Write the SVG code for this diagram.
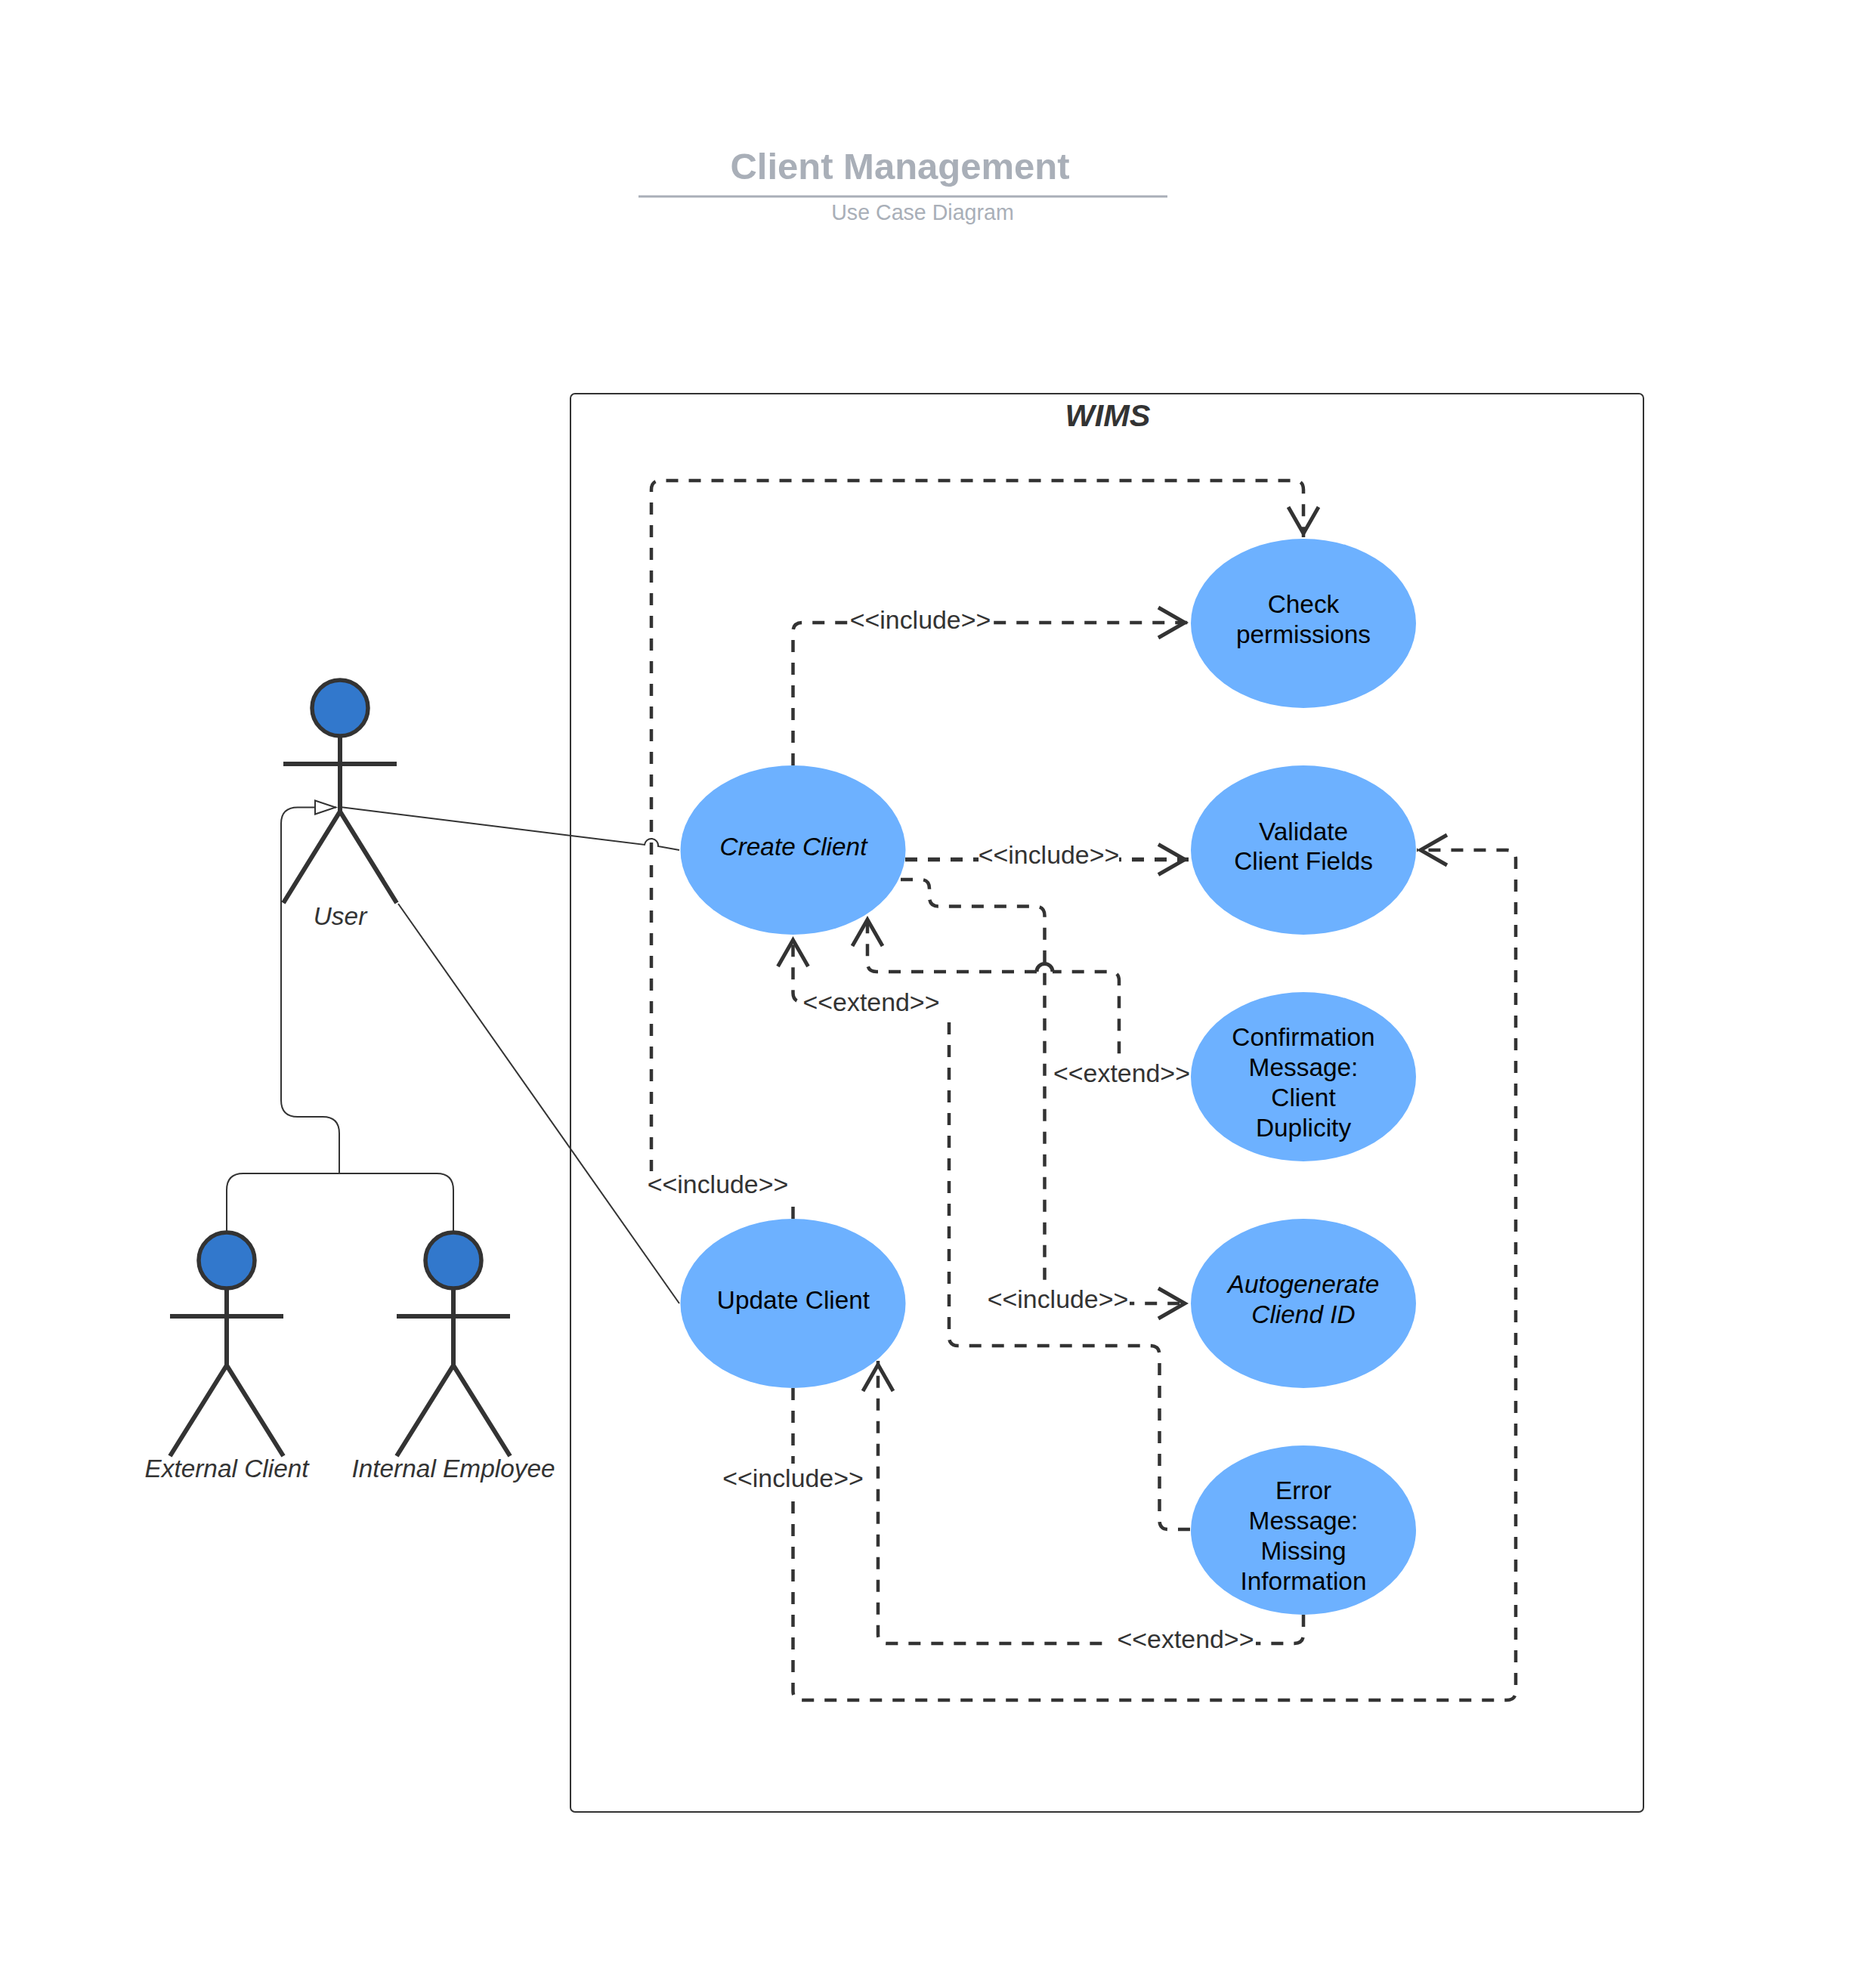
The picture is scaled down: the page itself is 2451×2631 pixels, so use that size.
<svg xmlns="http://www.w3.org/2000/svg" width="2451" height="2631" viewBox="0 0 2451 2631">
<style>
text{font-family:"Liberation Sans",Arial,sans-serif;text-anchor:middle}
.uc{fill:#6db1ff}
.ut{font-size:33.4px;fill:#000}
.i{font-style:italic}
.lb{font-size:33.9px;fill:#333}
.bg{fill:#fff}
.at{font-size:33.4px;font-style:italic;fill:#333}
.head{fill:#3278cc;stroke:#333;stroke-width:5.500}
.limb{fill:none;stroke:#333;stroke-width:6}
.thin{fill:none;stroke:#333;stroke-width:2}
.dash{fill:none;stroke:#333;stroke-width:4.500;stroke-dasharray:16 14}
.open{marker-end:url(#open)}
</style>
<defs>
<marker id="open" markerUnits="userSpaceOnUse" markerWidth="50" markerHeight="50" viewBox="0 0 50 50" refX="44" refY="25" orient="auto">
<path d="M4 5L39 25L4 45" fill="none" stroke="#333" stroke-width="5"/>
</marker>
<marker id="tri" markerUnits="userSpaceOnUse" markerWidth="34" markerHeight="24" viewBox="0 0 34 24" refX="30" refY="12" orient="auto">
<path d="M2 3L29 12L2 21Z" fill="#fff" stroke="#333" stroke-width="2"/>
</marker>
</defs>
<rect width="2451" height="2631" fill="#fff"/>
<g id="title">
<text x="1191" y="237" font-size="49" font-weight="bold" fill="#a9afb8">Client Management</text>
<rect x="845" y="258.500" width="700" height="3" fill="#a9afb8"/>
<text x="1221" y="291" font-size="28.600" fill="#a9afb8">Use Case Diagram</text>
</g>
<g id="system">
<rect x="755" y="521" width="1420" height="1877" rx="6" fill="#fff" stroke="#333" stroke-width="2"/>
<text x="1466" y="564" font-size="41.500" font-weight="bold" font-style="italic" fill="#333">WIMS</text>
</g>
<g id="connectors">
<path class="thin" d="M450 1068L853 1118A9 9 0 0 1 871 1120L899 1125"/>
<path class="thin" d="M527 1196L899 1725"/>
<path class="thin" style="marker-end:url(#tri)" d="M449 1553V1500Q449 1478 427 1478H394Q372 1478 372 1456V1090Q372 1068.500 394 1068.500H445"/>
<path class="thin" d="M300 1629V1575Q300 1553 322 1553H578Q600 1553 600 1575V1629"/>
<path class="dash open" d="M1049.500 1613V1580Q1049.500 1568 1037 1568H874Q862 1568 862 1556V648Q862 636 874 636H1713Q1725 636 1725 648V711"/>
<path class="dash open" d="M1049.500 1013V836Q1049.500 824 1062 824H1573"/>
<path class="dash open" style="stroke-width:5.500" d="M1198 1137.500H1573"/>
<path class="dash open" d="M1192 1164H1218Q1230 1164 1230 1176V1187Q1230 1199.500 1242 1199.500H1370Q1382.500 1199.500 1382.500 1212V1725H1573"/>
<path class="dash open" d="M1575 1425H1493Q1481 1425 1481 1413V1298Q1481 1286 1469 1286H1393M1372 1286H1160Q1148 1286 1148 1274V1212"/>
<path fill="none" stroke="#333" stroke-width="5" d="M1393 1286A10.500 10.500 0 0 0 1372 1286"/>
<path class="dash open" d="M1575 2024H1546Q1534.500 2024 1534.500 2012V1793Q1534.500 1781 1522 1781H1268Q1256 1781 1256 1769V1338Q1256 1326 1244 1326H1062Q1049.500 1326 1049.500 1314V1239"/>
<path class="dash open" d="M1725 2137V2163Q1725 2175 1713 2175H1174Q1162 2175 1162 2163V1801"/>
<path class="dash open" d="M1049.500 1837V2238Q1049.500 2250 1062 2250H1994Q2006 2250 2006 2238V1137Q2006 1125 1994 1125H1875"/>
<g id="labels">
<rect class="bg" x="1124" y="806" width="189" height="34"/><text class="lb" x="1218" y="832">&lt;&lt;include&gt;&gt;</text>
<rect class="bg" x="1295" y="1120" width="186" height="35"/><text class="lb" x="1388" y="1143">&lt;&lt;include&gt;&gt;</text>
<rect class="bg" x="1305" y="1703" width="190" height="42"/><text class="lb" x="1400" y="1731">&lt;&lt;include&gt;&gt;</text>
<rect class="bg" x="1394" y="1403" width="181" height="42"/><text class="lb" x="1484.500" y="1432">&lt;&lt;extend&gt;&gt;</text>
<rect class="bg" x="1056" y="1305" width="206" height="40"/><text class="lb" x="1153" y="1338">&lt;&lt;extend&gt;&gt;</text>
<rect class="bg" x="1472" y="2155" width="190" height="40"/><text class="lb" x="1569" y="2181">&lt;&lt;extend&gt;&gt;</text>
<rect class="bg" x="956" y="1937" width="187" height="45"/><text class="lb" x="1049.500" y="1968">&lt;&lt;include&gt;&gt;</text>
<rect class="bg" x="855" y="1550" width="200" height="36"/><text class="lb" x="950" y="1579">&lt;&lt;include&gt;&gt;</text>
</g>
</g>
<g id="actor-user">
<circle class="head" cx="450" cy="937" r="37"/>
<path class="limb" d="M450 975V1074M375 1011H525M375 1195L450 1074L525 1195"/>
<text class="at" x="450" y="1224">User</text>
</g>
<g id="actor-external-client">
<circle class="head" cx="300" cy="1668" r="37"/>
<path class="limb" d="M300 1706V1807M225 1742H375M225 1927L300 1807L375 1927"/>
<text class="at" x="300" y="1955">External Client</text>
</g>
<g id="actor-internal-employee">
<circle class="head" cx="600" cy="1668" r="37"/>
<path class="limb" d="M600 1706V1807M525 1742H675M525 1927L600 1807L675 1927"/>
<text class="at" x="600" y="1955">Internal Employee</text>
</g>
<g id="uc-create-client">
<ellipse class="uc" cx="1049.500" cy="1125" rx="149" ry="112"/>
<text class="ut i" x="1050" y="1132">Create Client</text>
</g>
<g id="uc-update-client">
<ellipse class="uc" cx="1049.500" cy="1725" rx="149" ry="112"/>
<text class="ut" x="1050" y="1732">Update Client</text>
</g>
<g id="uc-check-permissions">
<ellipse class="uc" cx="1725" cy="825" rx="149" ry="112"/>
<text class="ut" x="1725" y="811">Check</text><text class="ut" x="1725" y="851">permissions</text>
</g>
<g id="uc-validate">
<ellipse class="uc" cx="1725" cy="1125" rx="149" ry="112"/>
<text class="ut" x="1725" y="1111.500">Validate</text><text class="ut" x="1725" y="1151">Client Fields</text>
</g>
<g id="uc-confirmation">
<ellipse class="uc" cx="1725" cy="1425" rx="149" ry="112"/>
<text class="ut" x="1725" y="1384">Confirmation</text><text class="ut" x="1725" y="1424">Message:</text><text class="ut" x="1725" y="1464">Client</text><text class="ut" x="1725" y="1504">Duplicity</text>
</g>
<g id="uc-autogenerate">
<ellipse class="uc" cx="1725" cy="1725" rx="149" ry="112"/>
<text class="ut i" x="1725" y="1711">Autogenerate</text><text class="ut i" x="1725" y="1751">Cliend ID</text>
</g>
<g id="uc-error">
<ellipse class="uc" cx="1725" cy="2025" rx="149" ry="112"/>
<text class="ut" x="1725" y="1984">Error</text><text class="ut" x="1725" y="2024">Message:</text><text class="ut" x="1725" y="2064">Missing</text><text class="ut" x="1725" y="2104">Information</text>
</g>
</svg>
